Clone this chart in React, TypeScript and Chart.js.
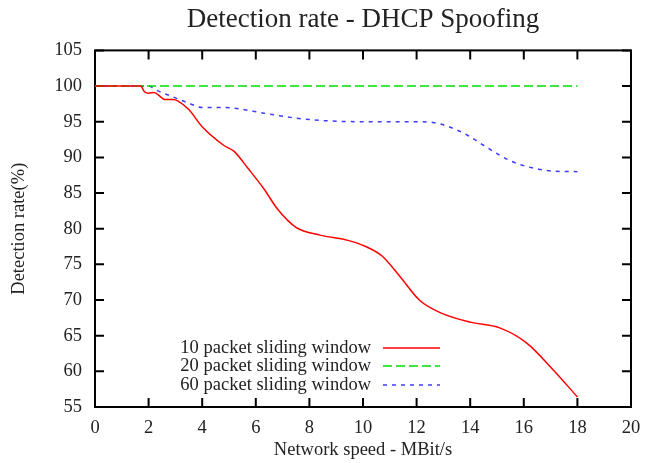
import React, { useEffect, useRef } from "react";
import { Chart, registerables } from "chart.js";
Chart.register(...registerables);

const titleText = "Detection rate - DHCP Spoofing";
const xTitle = "Network speed - MBit/s";
const yTitle = "Detection rate(%)";
const seriesLabels = ["10 packet sliding window", "20 packet sliding window", "60 packet sliding window"];

const redX = [0, 1, 1.7, 1.85, 2, 2.2, 2.45, 2.6, 2.9, 3.1, 3.5, 4, 4.8, 5.2, 5.7, 6.3, 6.8, 7.5, 8.4, 9.4, 10.1, 10.7, 11.4, 12.1, 12.9, 14, 15.1, 16.1, 17.1, 18];
const redY = [100, 100, 100, 99.2, 99.0, 99.1, 98.5, 98.1, 98.1, 97.9, 96.7, 94.3, 91.7, 90.8, 88.5, 85.6, 82.8, 80.2, 79.1, 78.4, 77.5, 76.2, 73.2, 70.0, 68.2, 66.9, 66.1, 64.0, 60.2, 56.4];
const greenX = [0, 18];
const greenY = [100, 100];
const blueX = [0, 1, 2, 2.3, 2.9, 3.5, 4, 4.6, 5.2, 6.3, 7.5, 8.8, 10.6, 12, 12.6, 13.2, 13.9, 14.5, 15.1, 15.7, 16.35, 17, 18];
const blueY = [100, 100, 100, 99.4, 98.5, 97.6, 97.0, 97.0, 96.9, 96.2, 95.5, 95.1, 95.0, 95.0, 94.9, 94.3, 93.1, 91.7, 90.3, 89.2, 88.5, 88.1, 88.0];

const xTicksMin = 0, xTicksMax = 20, xStep = 2;
const yTicksMin = 55, yTicksMax = 105, yStep = 5;

const FAMILY = "'Liberation Serif', 'DejaVu Serif', serif";
const TEXT = "#222";

const framePlugin = {
  id: "frame",
  beforeDatasetsDraw(chart: any) {
    const { ctx, chartArea: a, scales } = chart;
    ctx.save();
    ctx.strokeStyle = "#000";
    ctx.lineWidth = 2;
    ctx.strokeRect(a.left, a.top, a.right - a.left, a.bottom - a.top);
    const L = 9;
    ctx.beginPath();
    scales.x.ticks.forEach((t: any) => {
      const px = scales.x.getPixelForValue(t.value);
      ctx.moveTo(px, a.bottom); ctx.lineTo(px, a.bottom - L);
      ctx.moveTo(px, a.top); ctx.lineTo(px, a.top + L);
    });
    scales.y.ticks.forEach((t: any) => {
      const py = scales.y.getPixelForValue(t.value);
      ctx.moveTo(a.left, py); ctx.lineTo(a.left + L, py);
      ctx.moveTo(a.right, py); ctx.lineTo(a.right - L, py);
    });
    ctx.stroke();
    ctx.restore();
  },
};

const legendPlugin = {
  id: "innerLegend",
  afterDraw(chart: any) {
    const { ctx, chartArea: a } = chart;
    const offsets = [59, 41, 22];
    ctx.save();
    ctx.font = `18.5px ${FAMILY}`;
    ctx.textAlign = "right";
    ctx.textBaseline = "middle";
    chart.data.datasets.forEach((ds: any, i: number) => {
      const y = a.bottom - offsets[i];
      ctx.fillStyle = TEXT;
      ctx.fillText(ds.label, a.left + 276, y);
      ctx.strokeStyle = ds.borderColor;
      ctx.lineWidth = ds.borderWidth;
      ctx.setLineDash(ds.borderDash || []);
      ctx.beginPath();
      ctx.moveTo(a.left + 288, y);
      ctx.lineTo(a.left + 345, y);
      ctx.stroke();
    });
    ctx.restore();
  },
};

export default function App() {
  const ref = useRef<HTMLCanvasElement>(null);
  useEffect(() => {
    const pts = (xs: number[], ys: number[]) => xs.map((x, i) => ({ x, y: ys[i] }));
    const font = { family: FAMILY, size: 18.5 };
    const chart = new Chart(ref.current!, {
      type: "line",
      data: {
        datasets: [
          { label: seriesLabels[0], data: pts(redX, redY), borderColor: "#ff0000", borderWidth: 1.5, pointRadius: 0, cubicInterpolationMode: "monotone", fill: false },
          { label: seriesLabels[1], data: pts(greenX, greenY), borderColor: "#00e000", borderWidth: 1.5, borderDash: [9, 4], pointRadius: 0, fill: false },
          { label: seriesLabels[2], data: pts(blueX, blueY), borderColor: "#3c3cff", borderWidth: 1.5, borderDash: [4, 5], pointRadius: 0, cubicInterpolationMode: "monotone", fill: false },
        ],
      } as any,
      options: {
        responsive: false,
        animation: false,
        layout: { padding: { left: 0, right: 15, top: 0, bottom: 0 } },
        plugins: {
          legend: { display: false },
          tooltip: { enabled: false },
          title: {
            display: true,
            text: titleText,
            fullSize: false,
            font: { family: FAMILY, size: 27, weight: "normal" },
            color: TEXT,
            padding: { top: 4, bottom: 14 },
          },
        },
        scales: {
          x: {
            type: "linear",
            min: xTicksMin,
            max: xTicksMax,
            ticks: { stepSize: xStep, padding: 10, font, color: TEXT, maxRotation: 0 },
            grid: { display: false, drawTicks: false },
            border: { display: false },
            title: { display: true, text: xTitle, font, color: TEXT, padding: { top: 0, bottom: 2 } },
            afterFit: (s: any) => { s.height = 56; s.paddingRight = 0; s.paddingLeft = 0; },
          },
          y: {
            type: "linear",
            min: yTicksMin,
            max: yTicksMax,
            ticks: { stepSize: yStep, padding: 13, font, color: TEXT },
            grid: { display: false, drawTicks: false },
            border: { display: false },
            title: { display: true, text: yTitle, font, color: TEXT, padding: { top: 8, bottom: 0 } },
            afterFit: (s: any) => { s.width = 95; s.paddingTop = 0; s.paddingBottom = 0; },
          },
        },
      } as any,
      plugins: [framePlugin, legendPlugin],
    });
    return () => chart.destroy();
  }, []);
  return (
    <div style={{ position: "absolute", left: 0, top: 0, width: 646, height: 463, background: "#fff" }}>
      <canvas ref={ref} width={646} height={463} style={{ display: "block", width: 646, height: 463 }} />
    </div>
  );
}
